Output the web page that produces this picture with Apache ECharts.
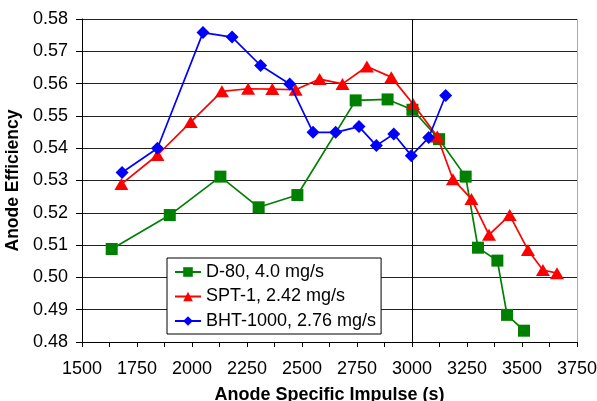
<!DOCTYPE html>
<html>
<head>
<meta charset="utf-8">
<script src="https://cdn.jsdelivr.net/npm/echarts@6/dist/echarts.min.js"></script>
<style>
  html, body { margin: 0; padding: 0; background: #fff; }
  #main { width: 597px; height: 401px; }
</style>
</head>
<body>
<div id="main"></div>
<script>
var chartDom = document.getElementById('main');
var myChart = echarts.init(chartDom);
var option;

// D-80, 4.0 mg/s
let d80Isp = [1635, 1899, 2129, 2303, 2479, 2744, 2889, 3002, 3123, 3244, 3300, 3388, 3432, 3509];
let d80Eff = [0.5088, 0.5193, 0.5312, 0.5217, 0.5255, 0.5548, 0.5551, 0.5519, 0.5428, 0.5312, 0.5092, 0.5052, 0.4884, 0.4835];

// SPT-1, 2.42 mg/s
let sptIsp = [1679, 1843, 1994, 2136, 2255, 2365, 2471, 2580, 2684, 2795, 2906, 3005, 3115, 3186, 3270, 3350, 3444, 3527, 3595, 3659];
let sptEff = [0.5289, 0.5379, 0.5481, 0.5576, 0.5584, 0.5583, 0.5581, 0.5614, 0.5599, 0.5653, 0.5620, 0.5537, 0.5436, 0.5304, 0.5243, 0.5132, 0.5193, 0.5085, 0.5023, 0.5013];

// BHT-1000, 2.76 mg/s
let bhtIsp = [1682, 1843, 2050, 2182, 2312, 2444, 2550, 2653, 2759, 2838, 2917, 2997, 3076, 3153];
let bhtEff = [0.5325, 0.5400, 0.5758, 0.5744, 0.5656, 0.5599, 0.5449, 0.5449, 0.5467, 0.5408, 0.5444, 0.5377, 0.5433, 0.5563];

let seriesNames = ['D-80, 4.0 mg/s', 'SPT-1, 2.42 mg/s', 'BHT-1000, 2.76 mg/s'];

function pairs(xs, ys) {
    let out = [];
    for (let i = 0; i < xs.length; i++) {
        out.push([xs[i], ys[i]]);
    }
    return out;
}

let font = 'Liberation Sans, Arial, sans-serif';

option = {
    animation: false,
    textStyle: { fontFamily: font },
    grid: {
        left: 82,
        right: 20,
        top: 19,
        bottom: 59,
        outerBoundsMode: 'none',
        containLabel: false
    },
    legend: {
        orient: 'vertical',
        left: 167,
        top: 258,
        data: seriesNames,
        backgroundColor: '#fff',
        borderColor: '#000',
        borderWidth: 1,
        padding: [4, 5, 3, 7],
        itemWidth: 26,
        itemHeight: 12,
        itemGap: 4.5,
        textStyle: { fontSize: 18, color: '#000', fontFamily: font, lineHeight: 20 }
    },
    xAxis: {
        type: 'value',
        min: 1500,
        max: 3750,
        interval: 125,
        name: 'Anode Specific Impulse (s)',
        nameLocation: 'middle',
        nameGap: 44,
        nameTextStyle: { fontSize: 18, fontWeight: 'bold', color: '#000', fontFamily: font },
        axisLine: { lineStyle: { color: '#000', width: 1 } },
        axisTick: { show: true, length: 5, lineStyle: { color: '#000' } },
        axisLabel: {
            fontSize: 18,
            color: '#000',
            margin: 18,
            formatter: function(v) {
                return v % 250 === 0 ? String(v) : '';
            }
        },
        splitLine: { show: false }
    },
    yAxis: {
        type: 'value',
        min: 0.48,
        max: 0.58,
        interval: 0.01,
        name: 'Anode Efficiency',
        nameLocation: 'middle',
        nameGap: 50,
        nameTextStyle: { fontSize: 17.5, fontWeight: 'bold', color: '#000', fontFamily: font },
        axisLine: { show: true, lineStyle: { color: '#000', width: 1 } },
        axisTick: { show: true, length: 6, lineStyle: { color: '#000' } },
        axisLabel: {
            fontSize: 18,
            color: '#000',
            margin: 14,
            formatter: function(v) {
                return v.toFixed(2);
            }
        },
        splitLine: { show: true, lineStyle: { color: '#222', width: 1 } }
    },
    series: [{
        name: seriesNames[0],
        type: 'line',
        data: pairs(d80Isp, d80Eff),
        symbol: 'rect',
        symbolSize: 12,
        color: '#008000',
        lineStyle: { width: 1.7, color: '#008000' },
        itemStyle: { color: '#008000' },
        z: 3,
        markLine: {
            silent: true,
            symbol: 'none',
            label: { show: false },
            lineStyle: { color: '#000', width: 1, type: 'solid' },
            data: [{ xAxis: 3000 }]
        }
    }, {
        name: seriesNames[1],
        type: 'line',
        data: pairs(sptIsp, sptEff),
        symbol: 'triangle',
        symbolSize: [14, 12],
        color: '#ff0000',
        lineStyle: { width: 1.7, color: '#ff0000' },
        itemStyle: { color: '#ff0000' },
        z: 4
    }, {
        name: seriesNames[2],
        type: 'line',
        data: pairs(bhtIsp, bhtEff),
        symbol: 'diamond',
        symbolSize: 13,
        color: '#0000ff',
        lineStyle: { width: 1.7, color: '#0000ff' },
        itemStyle: { color: '#0000ff' },
        z: 5
    }],
    graphic: [{
        type: 'line',
        shape: { x1: 577.5, y1: 19, x2: 577.5, y2: 342 },
        style: { stroke: '#aaa', lineWidth: 1 },
        z: 1
    }]
};

option && myChart.setOption(option);
</script>
</body>
</html>
